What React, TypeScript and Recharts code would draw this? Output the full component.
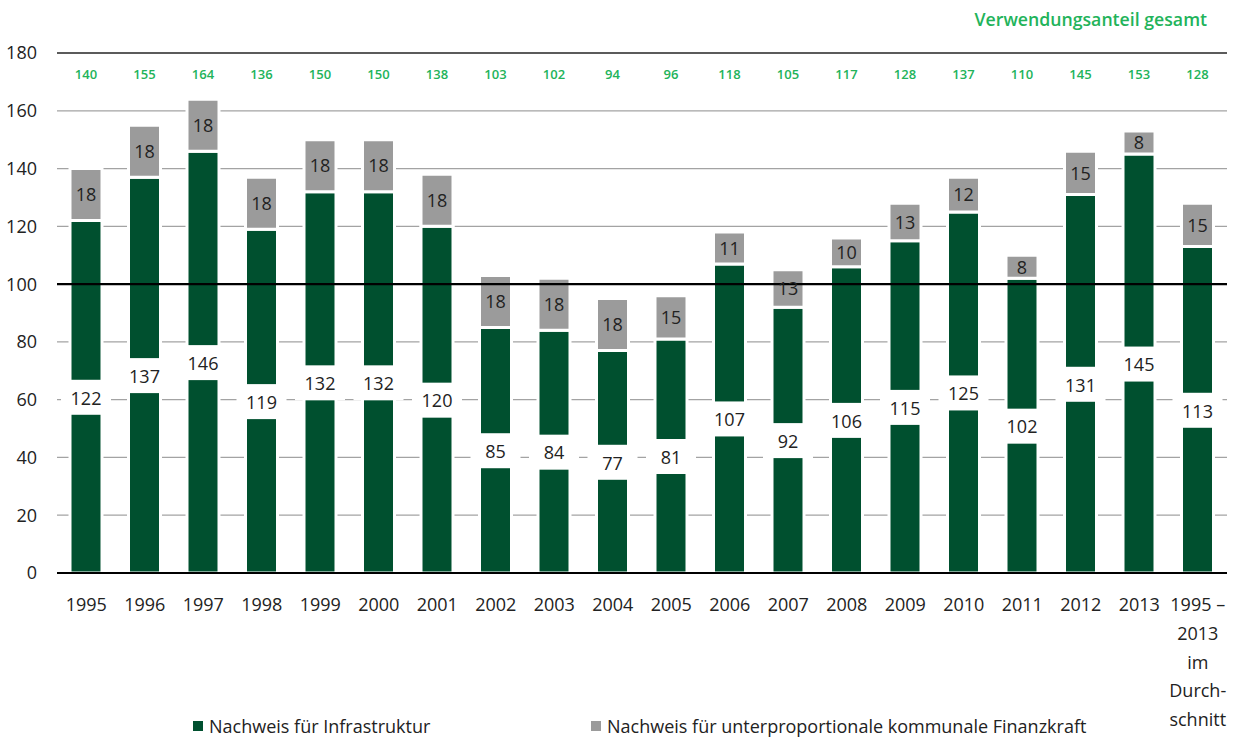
import { BarChart, Bar, XAxis, YAxis, CartesianGrid, ReferenceLine, LabelList } from 'recharts';

const categories = [
  '1995', '1996', '1997', '1998', '1999', '2000', '2001', '2002', '2003', '2004',
  '2005', '2006', '2007', '2008', '2009', '2010', '2011', '2012', '2013',
  '1995 –\n2013\nim\nDurch-\nschnitt',
];
const infrastruktur = [122, 137, 146, 119, 132, 132, 120, 85, 84, 77, 81, 107, 92, 106, 115, 125, 102, 131, 145, 113];
const finanzkraft = [18, 18, 18, 18, 18, 18, 18, 18, 18, 18, 15, 11, 13, 10, 13, 12, 8, 15, 8, 15];
const gesamt = [140, 155, 164, 136, 150, 150, 138, 103, 102, 94, 96, 118, 105, 117, 128, 137, 110, 145, 153, 128];
const yTicks = [0, 20, 40, 60, 80, 100, 120, 140, 160, 180];

const data = categories.map((name, i) => ({
  name,
  infra: infrastruktur[i],
  finanz: finanzkraft[i],
  total: gesamt[i],
}));

const GREEN = '#00502f';
const GREY = '#9b9b9b';
const LABEL_GREEN = '#22b35a';
const FONT = '"Open Sans", sans-serif';

function InfraLabel(props: any) {
  const { x, y, width, height, value } = props;
  const cx = x + width / 2;
  const cy = y + height / 2;
  return (
    <g>
      <rect x={cx - 25} y={cy - 17} width={50} height={35} fill="#fff" />
      <text x={cx} y={cy + 3} textAnchor="middle" dominantBaseline="middle" fontSize={18} fill="#222" fontFamily={FONT}>
        {value}
      </text>
    </g>
  );
}

function FinanzLabel(props: any) {
  const { x, y, width, height, value } = props;
  return (
    <text x={x + width / 2} y={y + height / 2 + 2} textAnchor="middle" dominantBaseline="middle" fontSize={18} fill="#222" fontFamily={FONT}>
      {value}
    </text>
  );
}

function TotalLabel(props: any) {
  const { x, width, index } = props;
  return (
    <text x={x + width / 2} y={76} textAnchor="middle" dominantBaseline="middle" fontSize={13} fontWeight={600} fill={LABEL_GREEN} fontFamily={FONT}>
      {gesamt[index]}
    </text>
  );
}

function CategoryTick(props: any) {
  const { x, y, payload } = props;
  const lines = String(payload.value).split('\n');
  return (
    <text x={x} y={y + 36} textAnchor="middle" fontSize={18} fill="#222" fontFamily={FONT}>
      {lines.map((l, i) => (
        <tspan key={i} x={x} dy={i === 0 ? 0 : 28.8}>
          {l}
        </tspan>
      ))}
    </text>
  );
}

export default function App() {
  return (
    <div style={{ position: 'absolute', left: 0, top: 0, width: 1235, height: 737, background: '#fff', fontFamily: FONT }}>
      <div style={{ position: 'absolute', right: 28, top: 7, color: LABEL_GREEN, fontSize: 17.7, fontWeight: 600 }}>
        Verwendungsanteil gesamt
      </div>
      <BarChart width={1235} height={737} data={data} margin={{ top: 53, right: 8, bottom: 0, left: 7 }} barSize={32}>
        <CartesianGrid vertical={false} stroke="#a3a3a3" strokeWidth={1.2} />
        <XAxis dataKey="name" interval={0} axisLine={false} tickLine={false} tickSize={0} height={164} tick={<CategoryTick />} />
        <YAxis
          domain={[0, 180]}
          ticks={yTicks}
          axisLine={false}
          tickLine={false}
          tickSize={0}
          tickMargin={20}
          width={50}
          tick={{ fontSize: 18, fill: '#222', fontFamily: FONT }}
        />
        <Bar dataKey="infra" stackId="a" fill={GREEN} stroke="#fff" strokeWidth={3} isAnimationActive={false}>
          <LabelList dataKey="infra" content={<InfraLabel />} />
        </Bar>
        <Bar dataKey="finanz" stackId="a" fill={GREY} stroke="#fff" strokeWidth={3} isAnimationActive={false}>
          <LabelList dataKey="finanz" content={<FinanzLabel />} />
          <LabelList dataKey="total" content={<TotalLabel />} />
        </Bar>
        <ReferenceLine y={180} stroke="#333" strokeWidth={1.5} />
        <ReferenceLine y={100} stroke="#000" strokeWidth={2.2} />
        <ReferenceLine y={0} stroke="#000" strokeWidth={2.2} />
      </BarChart>
      <div style={{ position: 'absolute', left: 193, top: 714, fontSize: 18, color: '#222', display: 'flex', alignItems: 'center', whiteSpace: 'nowrap' }}>
        <span style={{ display: 'inline-block', width: 10, height: 10, background: GREEN, marginRight: 6 }} />
        Nachweis für Infrastruktur
      </div>
      <div style={{ position: 'absolute', left: 591, top: 714, fontSize: 18, color: '#222', display: 'flex', alignItems: 'center', whiteSpace: 'nowrap' }}>
        <span style={{ display: 'inline-block', width: 10, height: 10, background: GREY, marginRight: 6 }} />
        Nachweis für unterproportionale kommunale Finanzkraft
      </div>
    </div>
  );
}
